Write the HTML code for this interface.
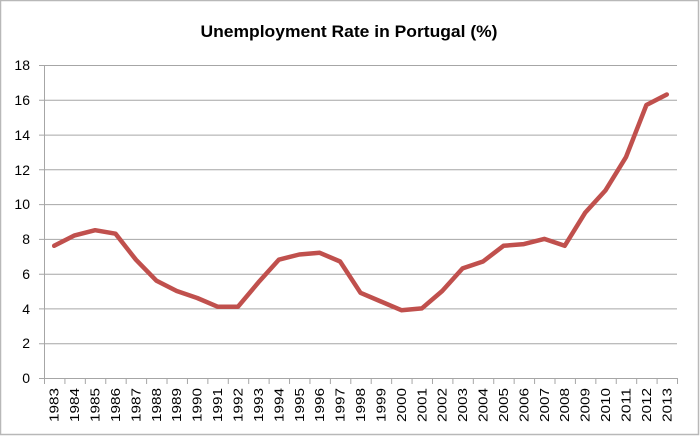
<!DOCTYPE html>
<html><head><meta charset="utf-8"><style>
html,body{margin:0;padding:0;background:#fff;}
svg{display:block;}
text{font-family:"Liberation Sans",sans-serif;fill:#000;}
</style></head><body>
<svg width="700" height="436" viewBox="0 0 700 436" xmlns="http://www.w3.org/2000/svg">
<rect x="0.5" y="0.5" width="698" height="434" fill="#fff" stroke="#b8b8b8" stroke-width="1.5"/>
<text x="349" y="37" text-anchor="middle" font-size="17" font-weight="bold" textLength="297" lengthAdjust="spacingAndGlyphs">Unemployment Rate in Portugal (%)</text>
<g stroke="#a6a6a6" stroke-width="1">
<line x1="39" y1="65.5" x2="677" y2="65.5"/>
<line x1="39" y1="100.3" x2="677" y2="100.3"/>
<line x1="39" y1="135.1" x2="677" y2="135.1"/>
<line x1="39" y1="169.8" x2="677" y2="169.8"/>
<line x1="39" y1="204.6" x2="677" y2="204.6"/>
<line x1="39" y1="239.4" x2="677" y2="239.4"/>
<line x1="39" y1="274.2" x2="677" y2="274.2"/>
<line x1="39" y1="308.9" x2="677" y2="308.9"/>
<line x1="39" y1="343.7" x2="677" y2="343.7"/>
<line x1="39" y1="378.5" x2="677" y2="378.5"/>
<line x1="44.5" y1="65" x2="44.5" y2="378"/>
</g>
<g stroke="#a6a6a6" stroke-width="1" id="ticks"></g>
<g font-size="14" text-anchor="end">
<text x="30" y="70">18</text><text x="30" y="105">16</text><text x="30" y="140">14</text>
<text x="30" y="175">12</text><text x="30" y="209">10</text><text x="30" y="244">8</text>
<text x="30" y="279">6</text><text x="30" y="314">4</text><text x="30" y="348">2</text>
<text x="30" y="383">0</text>
</g>
<g id="xl" font-size="13"></g>
<polyline fill="none" stroke="#c0504d" stroke-width="4.5" stroke-linejoin="round" stroke-linecap="round" points="54.2,245.8 74.6,235.4 95.1,230.2 115.5,233.7 135.9,259.7 156.3,280.6 176.7,291.0 197.2,298.0 217.6,306.7 238.0,306.7 258.4,282.4 278.8,259.7 299.3,254.5 319.7,252.8 340.1,261.5 360.5,292.8 380.9,301.5 401.4,310.2 421.8,308.4 442.2,291.0 462.6,268.4 483.0,261.5 503.5,245.8 523.9,244.1 544.3,238.9 564.7,245.8 585.1,212.8 605.6,190.2 626.0,157.1 646.4,105.0 666.8,94.5"/>
<script>
var t=document.getElementById('ticks'),xl=document.getElementById('xl'),ns='http://www.w3.org/2000/svg';
for(var i=0;i<=31;i++){var x=44.5+20.42*i;var l=document.createElementNS(ns,'line');l.setAttribute('x1',x);l.setAttribute('x2',x);l.setAttribute('y1',378);l.setAttribute('y2',384);t.appendChild(l);}
for(var i=0;i<31;i++){var cx=44+20.42*(i+0.5)+4.5;var e=document.createElementNS(ns,'text');e.setAttribute('transform','translate('+cx+',422) rotate(-90)');e.setAttribute('textLength','34');e.setAttribute('lengthAdjust','spacingAndGlyphs');e.textContent=1983+i;xl.appendChild(e);}
</script>
</svg>
</body></html>
